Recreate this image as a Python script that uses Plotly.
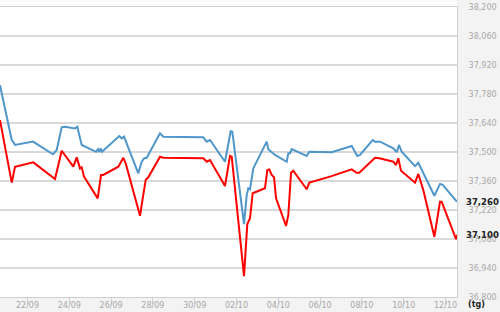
import plotly.graph_objects as go

# ---- data ----
blue_times = [
    "2023-09-20 16:24", "2023-09-21 05:54", "2023-09-21 07:21", "2023-09-21 09:39",
    "2023-09-22 06:19", "2023-09-23 05:17", "2023-09-23 09:32", "2023-09-23 15:16",
    "2023-09-23 19:04", "2023-09-24 06:33", "2023-09-24 09:11", "2023-09-24 14:14",
    "2023-09-25 06:40", "2023-09-25 09:00", "2023-09-25 10:27", "2023-09-25 12:04",
    "2023-09-25 13:33", "2023-09-26 09:25", "2023-09-26 12:11", "2023-09-26 14:49",
    "2023-09-27 07:14", "2023-09-27 11:09", "2023-09-27 14:08", "2023-09-27 16:53",
    "2023-09-28 08:09", "2023-09-28 11:57", "2023-09-30 09:53", "2023-09-30 13:47",
    "2023-09-30 17:34", "2023-10-01 10:48", "2023-10-01 17:20", "2023-10-01 19:11",
    "2023-10-02 08:37", "2023-10-02 11:43", "2023-10-02 13:33", "2023-10-02 15:30",
    "2023-10-02 19:18", "2023-10-03 10:41", "2023-10-03 12:32", "2023-10-03 16:26",
    "2023-10-03 20:13", "2023-10-04 09:40", "2023-10-04 11:30", "2023-10-04 13:27",
    "2023-10-04 15:24", "2023-10-05 08:36", "2023-10-05 11:36", "2023-10-06 13:20",
    "2023-10-07 12:18", "2023-10-07 18:43", "2023-10-07 21:50", "2023-10-08 12:24",
    "2023-10-08 15:02", "2023-10-08 20:48", "2023-10-09 12:06", "2023-10-09 16:00",
    "2023-10-09 18:36", "2023-10-09 21:42", "2023-10-10 13:00", "2023-10-10 16:48",
    "2023-10-11 11:12", "2023-10-11 17:42", "2023-10-11 20:48", "2023-10-12 13:00",
]
blue_values = [
    37823, 37558, 37550, 37534,
    37550, 37489, 37510, 37619,
    37622, 37614, 37622, 37534,
    37501, 37514, 37500, 37517,
    37501, 37577, 37566, 37574,
    37397, 37453, 37470, 37472,
    37590, 37574, 37571, 37550,
    37558, 37453, 37601, 37598,
    37152, 37292, 37325, 37320,
    37421, 37550, 37513, 37501,
    37486, 37453, 37494, 37494,
    37514, 37481, 37501, 37499,
    37529, 37481, 37486, 37558,
    37550, 37550, 37518, 37499,
    37534, 37501, 37432, 37448,
    37289, 37346, 37341, 37260,
]

red_times = [
    "2023-09-20 16:24", "2023-09-21 05:54", "2023-09-21 09:39", "2023-09-22 06:40",
    "2023-09-23 07:35", "2023-09-23 15:16", "2023-09-24 04:36", "2023-09-24 08:30",
    "2023-09-24 12:18", "2023-09-24 14:14", "2023-09-24 16:53", "2023-09-25 08:36",
    "2023-09-25 12:24", "2023-09-25 15:00", "2023-09-26 08:18", "2023-09-26 14:00",
    "2023-09-26 16:48", "2023-09-27 09:12", "2023-09-27 12:18", "2023-09-27 15:42",
    "2023-09-27 18:42", "2023-09-28 08:09", "2023-09-28 11:57", "2023-09-30 09:53",
    "2023-09-30 13:47", "2023-09-30 17:34", "2023-10-01 10:48", "2023-10-01 16:30",
    "2023-10-01 18:30", "2023-10-02 08:37", "2023-10-02 12:24", "2023-10-02 15:30",
    "2023-10-02 18:36", "2023-10-03 08:42", "2023-10-03 11:24", "2023-10-03 13:42",
    "2023-10-03 16:26", "2023-10-03 19:06", "2023-10-03 21:24", "2023-10-04 08:54",
    "2023-10-04 11:30", "2023-10-04 14:36", "2023-10-04 17:12", "2023-10-05 08:36",
    "2023-10-05 11:36", "2023-10-06 11:24", "2023-10-07 12:18", "2023-10-07 18:00",
    "2023-10-07 21:00", "2023-10-08 15:02", "2023-10-08 20:00", "2023-10-09 12:06",
    "2023-10-09 15:12", "2023-10-09 17:48", "2023-10-09 20:54", "2023-10-10 13:00",
    "2023-10-10 16:48", "2023-10-10 22:30", "2023-10-11 11:12", "2023-10-11 13:54",
    "2023-10-11 17:42", "2023-10-11 19:36", "2023-10-12 12:06", "2023-10-12 13:30",
]
red_values = [
    37654, 37352, 37429, 37450,
    37370, 37506, 37429, 37474,
    37421, 37426, 37381, 37276,
    37389, 37389, 37429, 37472,
    37445, 37192, 37276, 37365,
    37378, 37477, 37472, 37470,
    37453, 37461, 37336, 37481,
    37477, 36901, 37152, 37180,
    37301, 37325, 37413, 37416,
    37389, 37378, 37276, 37143,
    37196, 37400, 37410, 37320,
    37352, 37381, 37416, 37400,
    37400, 37472, 37470, 37453,
    37437, 37470, 37410, 37352,
    37394, 37317, 37091, 37164,
    37260, 37260, 37079, 37100,
]

y_range = [36800, 38200]
y_step = 140
x_range = ["2023-09-20 16:25", "2023-10-12 13:12"]
x_tick0 = "2023-09-22"
unit_label = "(tg)"

BLUE = "#4f97cb"
RED = "#ff0000"
TICK_FONT = dict(family="DejaVu Sans", size=8, color="#a8a8a8")

fig = go.Figure()
fig.add_trace(go.Scatter(x=blue_times, y=blue_values, mode="lines",
                         line=dict(color=BLUE, width=2), hoverinfo="skip"))
fig.add_trace(go.Scatter(x=red_times, y=red_values, mode="lines",
                         line=dict(color=RED, width=2), hoverinfo="skip"))

fig.update_layout(
    width=500, height=312,
    margin=dict(l=0, r=43, t=7, b=15),
    paper_bgcolor="#f3f3f3",
    plot_bgcolor="#ffffff",
    showlegend=False,
    xaxis=dict(
        type="date", range=x_range,
        tick0=x_tick0, dtick=2 * 86400000, tickformat="%d/%m",
        showgrid=False, zeroline=False,
        showline=True, linecolor="#cfcfcf", linewidth=1, mirror=True,
        ticks="outside", ticklen=6, tickcolor="#d0d0d0", tickwidth=1,
        ticklabelstandoff=-6,
        tickfont=TICK_FONT,
    ),
    yaxis=dict(
        side="right", range=y_range, dtick=y_step, tick0=y_range[0],
        tickformat=",d", showgrid=True, gridcolor="#d9d9d9", gridwidth=1.5,
        zeroline=False, showline=True, linecolor="#cfcfcf", linewidth=1,
        ticks="", ticklabelstandoff=9,
        tickfont=TICK_FONT,
    ),
)

# light band above the plot area
fig.add_shape(type="rect", xref="paper", yref="paper", x0=0, x1=1, y0=1, y1=1.03,
              fillcolor="#fbfbfb", line_width=0, layer="below")

# last-value labels
for vals in (blue_values, red_values):
    fig.add_annotation(x=1, xref="paper", y=vals[-1], yref="y",
                       text=f"<b>{vals[-1]:,}</b>", showarrow=False,
                       xanchor="left", yanchor="middle", xshift=7,
                       font=dict(family="DejaVu Sans", size=8.5, color="#222222"))

fig.add_annotation(x=1, xref="paper", y=0, yref="paper", text=f"<b>{unit_label}</b>",
                   showarrow=False, xanchor="left", yanchor="middle",
                   xshift=9, yshift=-7,
                   font=dict(family="DejaVu Sans", size=8, color="#222222"))

fig.write_html("out.html")
